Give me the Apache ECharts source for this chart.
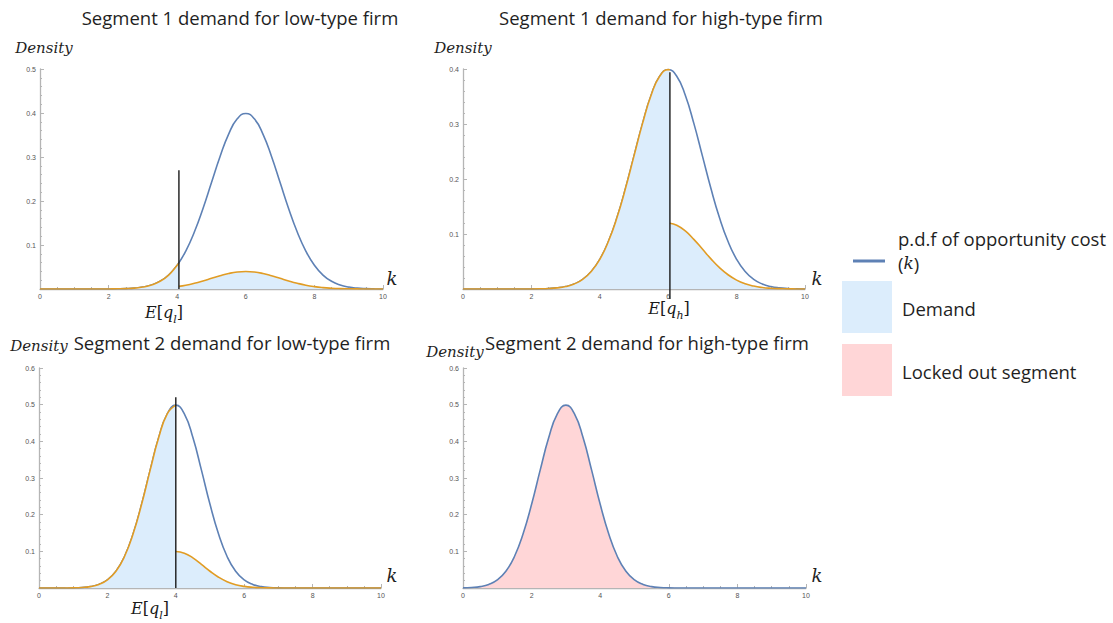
<!DOCTYPE html>
<html>
<head>
<meta charset="utf-8">
<script src="https://cdn.jsdelivr.net/npm/echarts@6/dist/echarts.min.js"></script>
<style>
html,body{margin:0;padding:0;background:#fff;}
#chart{width:1113px;height:623px;}
</style>
</head>
<body>
<div id="chart"></div>
<script>
// ---- data ----
const kValues = [0,0.25,0.5,0.75,1,1.25,1.5,1.75,2,2.25,2.5,2.75,3,3.25,3.5,3.75,4,4.25,4.5,4.75,5,5.25,5.5,5.75,6,6.25,6.5,6.75,7,7.25,7.5,7.75,8,8.25,8.5,8.75,9,9.25,9.5,9.75,10];

// p.d.f of opportunity cost, segment 1 (both firm types)
const segment1Pdf = [0,0,0,0,0,0,0,0,0.0001,0.0004,0.0009,0.002,0.0044,0.0091,0.0175,0.0317,0.054,0.0863,0.1295,0.1826,0.242,0.3011,0.3521,0.3867,0.3989,0.3867,0.3521,0.3011,0.242,0.1826,0.1295,0.0863,0.054,0.0317,0.0175,0.0091,0.0044,0.002,0.0009,0.0004,0.0001];
// p.d.f of opportunity cost, segment 2 low-type
const segment2LowPdf = [0,0,0,0.0001,0.0004,0.0014,0.0038,0.0096,0.0219,0.0456,0.086,0.1471,0.2283,0.3214,0.4102,0.4749,0.4987,0.4749,0.4102,0.3214,0.2283,0.1471,0.086,0.0456,0.0219,0.0096,0.0038,0.0014,0.0004,0.0001,0,0,0,0,0,0,0,0,0,0,0];
// p.d.f of opportunity cost, segment 2 high-type (locked out)
const segment2HighPdf = [0.0004,0.0014,0.0038,0.0096,0.0219,0.0456,0.086,0.1471,0.2283,0.3214,0.4102,0.4749,0.4987,0.4749,0.4102,0.3214,0.2283,0.1471,0.086,0.0456,0.0219,0.0096,0.0038,0.0014,0.0004,0.0001,0,0,0,0,0,0,0,0,0,0,0,0,0,0,0];

// expected quality cut-offs (E[q]) and marker heights
const cutK = [4.05, 6.05, 4];
const cutTop = [0.27, 0.394, 0.52];
const cutBottom = [0, -0.018, 0];

// demand curves (left / right of cut)
const s1LowLeftK = kValues.slice(0,17).concat([cutK[0]]);
const s1LowLeftY = [0,0,0,0,0,0,0,0,0.0001,0.0004,0.0009,0.002,0.0044,0.0091,0.0175,0.0317,0.054,0.0596];
const s1LowRightK = [cutK[0]].concat(kValues.slice(17));
const s1LowRightY = [0.006,0.0086,0.013,0.0183,0.0242,0.0301,0.0352,0.0387,0.0399,0.0387,0.0352,0.0301,0.0242,0.0183,0.013,0.0086,0.0054,0.0032,0.0018,0.0009,0.0004,0.0002,0.0001,0,0];

const s1HighLeftK = kValues.slice(0,25).concat([cutK[1]]);
const s1HighLeftY = [0,0,0,0,0,0,0,0,0.0001,0.0004,0.0009,0.002,0.0044,0.0091,0.0175,0.0317,0.054,0.0863,0.1295,0.1826,0.242,0.3011,0.3521,0.3867,0.3989,0.3984];
const s1HighRightK = [cutK[1]].concat(kValues.slice(25));
const s1HighRightY = [0.1195,0.116,0.1056,0.0903,0.0726,0.0548,0.0389,0.0259,0.0162,0.0095,0.0053,0.0027,0.0013,0.0006,0.0003,0.0001,0];

const s2LowLeftK = kValues.slice(0,17);
const s2LowLeftY = [0,0,0,0.0001,0.0004,0.0014,0.0038,0.0096,0.0219,0.0456,0.086,0.1471,0.2283,0.3214,0.4102,0.4749,0.4987];
const s2LowRightK = kValues.slice(16);
const s2LowRightY = [0.0997,0.095,0.082,0.0643,0.0457,0.0294,0.0172,0.0091,0.0044,0.0019,0.0008,0.0003,0.0001,0,0,0,0,0,0,0,0,0,0,0,0];

const yMax = [0.5, 0.4, 0.6, 0.6];
const panelTitles = ['Segment 1 demand for low-type firm','Segment 1 demand for high-type firm','Segment 2 demand for low-type firm','Segment 2 demand for high-type firm'];
const legendLabels = ['p.d.f of opportunity cost', 'Demand', 'Locked out segment'];

// ---- styling ----
const BLUE = '#5e81b5', ORANGE = '#e19c24', FILL_BLUE = '#dcedfc', FILL_PINK = '#ffd6d7';
const AXIS = '#b5b5b5';
const zip = (a, b) => a.map((v, i) => [v, b[i]]);

const grids = [
  {left: 40, top: 69, width: 343, height: 220},
  {left: 463, top: 69, width: 342, height: 220},
  {left: 39, top: 368, width: 342, height: 220},
  {left: 463, top: 368, width: 343, height: 220}
];

const xAxes = grids.map((g, i) => ({
  type: 'value', gridIndex: i, min: 0, max: 10, interval: 2,
  axisLine: {show: true, onZero: false, lineStyle: {color: AXIS, width: 1.3}},
  axisTick: {show: true, inside: true, length: 4, lineStyle: {color: AXIS}},
  minorTick: {show: true, splitNumber: 4, length: 2, lineStyle: {color: AXIS}},
  splitLine: {show: false},
  axisLabel: {fontSize: 7, color: '#555', margin: 4, fontFamily: 'Liberation Sans'}
}));
const yAxes = grids.map((g, i) => ({
  type: 'value', gridIndex: i, min: 0, max: yMax[i], interval: 0.1,
  axisLine: {show: true, onZero: false, lineStyle: {color: AXIS, width: 1.3}},
  axisTick: {show: true, inside: true, length: 4, lineStyle: {color: AXIS}},
  minorTick: {show: true, splitNumber: 5, length: 2, lineStyle: {color: AXIS}},
  splitLine: {show: false},
  axisLabel: {fontSize: 7, color: '#555', margin: 4, fontFamily: 'Liberation Sans',
    formatter: v => v === 0 ? '' : v.toFixed(1)}
}));

function curve(i, data, color, fill, z) {
  const s = {
    type: 'line', xAxisIndex: i, yAxisIndex: i, data: data, showSymbol: false, symbol: 'none',
    smooth: 0.5, lineStyle: {color: color, width: 1.6}, z: z, silent: true
  };
  if (fill) s.areaStyle = {color: fill, opacity: 1};
  return s;
}
function cutLine(i, p) {
  return {
    type: 'line', xAxisIndex: i, yAxisIndex: i, clip: false, symbol: 'none', silent: true,
    data: [[cutK[p], cutBottom[p]], [cutK[p], cutTop[p]]],
    lineStyle: {color: '#1a1a1a', width: 1.4}, z: 10
  };
}

const series = [
  curve(0, zip(kValues, segment1Pdf), BLUE, null, 2),
  curve(0, zip(s1LowLeftK, s1LowLeftY), ORANGE, FILL_BLUE, 3),
  curve(0, zip(s1LowRightK, s1LowRightY), ORANGE, FILL_BLUE, 3),
  cutLine(0, 0),
  curve(1, zip(kValues, segment1Pdf), BLUE, null, 2),
  curve(1, zip(s1HighLeftK, s1HighLeftY), ORANGE, FILL_BLUE, 3),
  curve(1, zip(s1HighRightK, s1HighRightY), ORANGE, FILL_BLUE, 3),
  cutLine(1, 1),
  curve(2, zip(kValues, segment2LowPdf), BLUE, null, 2),
  curve(2, zip(s2LowLeftK, s2LowLeftY), ORANGE, FILL_BLUE, 3),
  curve(2, zip(s2LowRightK, s2LowRightY), ORANGE, FILL_BLUE, 3),
  cutLine(2, 2),
  curve(3, zip(kValues, segment2HighPdf), BLUE, FILL_PINK, 2)
];

const SANS = 'Open Sans';
const SERIF = 'DejaVu Serif';
function txt(text, x, y, size, opts) {
  return {type: 'text', x: x, y: y, silent: true, z: 20,
    style: Object.assign({text: text, fontSize: size, fontFamily: SANS, fill: '#1f1f1f', align: 'center', verticalAlign: 'middle'}, opts || {})};
}
function mathLabel(sub, x, y) {
  return {type: 'text', x: x, y: y, silent: true, z: 20,
    style: {
      text: '{i|E}{u|[}{i|q}{s|' + sub + '}{u|]}', align: 'center', verticalAlign: 'middle', fill: '#1a1a1a',
      rich: {
        i: {fontFamily: SERIF, fontStyle: 'italic', fontSize: 16, lineHeight: 20, verticalAlign: 'middle'},
        u: {fontFamily: SERIF, fontSize: 16, lineHeight: 20, verticalAlign: 'middle'},
        s: {fontFamily: SERIF, fontStyle: 'italic', fontSize: 11, lineHeight: 25, verticalAlign: 'bottom'}
      }
    }};
}

const graphic = [
  txt(panelTitles[0], 240, 17, 18.5),
  txt(panelTitles[1], 661, 17, 18.5),
  txt(panelTitles[2], 232, 342, 18.5),
  txt(panelTitles[3], 647, 342, 18.5),
  txt('Density', 44, 48, 15, {fontFamily: SERIF, fontStyle: 'italic'}),
  txt('Density', 463, 48, 15, {fontFamily: SERIF, fontStyle: 'italic'}),
  txt('Density', 39, 346, 15, {fontFamily: SERIF, fontStyle: 'italic'}),
  txt('Density', 455, 352, 15, {fontFamily: SERIF, fontStyle: 'italic'}),
  txt('k', 392, 278, 18, {fontFamily: SERIF, fontStyle: 'italic'}),
  txt('k', 817, 278, 18, {fontFamily: SERIF, fontStyle: 'italic'}),
  txt('k', 392, 575, 18, {fontFamily: SERIF, fontStyle: 'italic'}),
  txt('k', 817, 575, 18, {fontFamily: SERIF, fontStyle: 'italic'}),
  mathLabel('l', 164, 312),
  mathLabel('h', 669, 308),
  mathLabel('l', 150, 608),
  // legend
  {type: 'line', shape: {x1: 853, y1: 261, x2: 885, y2: 261}, style: {stroke: BLUE, lineWidth: 3}, silent: true},
  txt(legendLabels[0], 898, 238, 18.5, {align: 'left'}),
  {type: 'text', x: 898, y: 263, silent: true, style: {
    text: '{u|(}{i|k}{u|)}', align: 'left', verticalAlign: 'middle', fill: '#1f1f1f',
    rich: {u: {fontFamily: SANS, fontSize: 18.5}, i: {fontFamily: SERIF, fontStyle: 'italic', fontSize: 17}}}},
  {type: 'rect', shape: {x: 842, y: 281, width: 50, height: 52}, style: {fill: FILL_BLUE}, silent: true},
  txt(legendLabels[1], 902, 308, 18.5, {align: 'left'}),
  {type: 'rect', shape: {x: 842, y: 344, width: 50, height: 52}, style: {fill: FILL_PINK}, silent: true},
  txt(legendLabels[2], 902, 371, 18.5, {align: 'left'})
];

const chart = echarts.init(document.getElementById('chart'), null, {renderer: 'svg'});
chart.setOption({
  animation: false,
  backgroundColor: '#ffffff',
  grid: grids,
  xAxis: xAxes,
  yAxis: yAxes,
  series: series,
  graphic: graphic
});
</script>
</body>
</html>
